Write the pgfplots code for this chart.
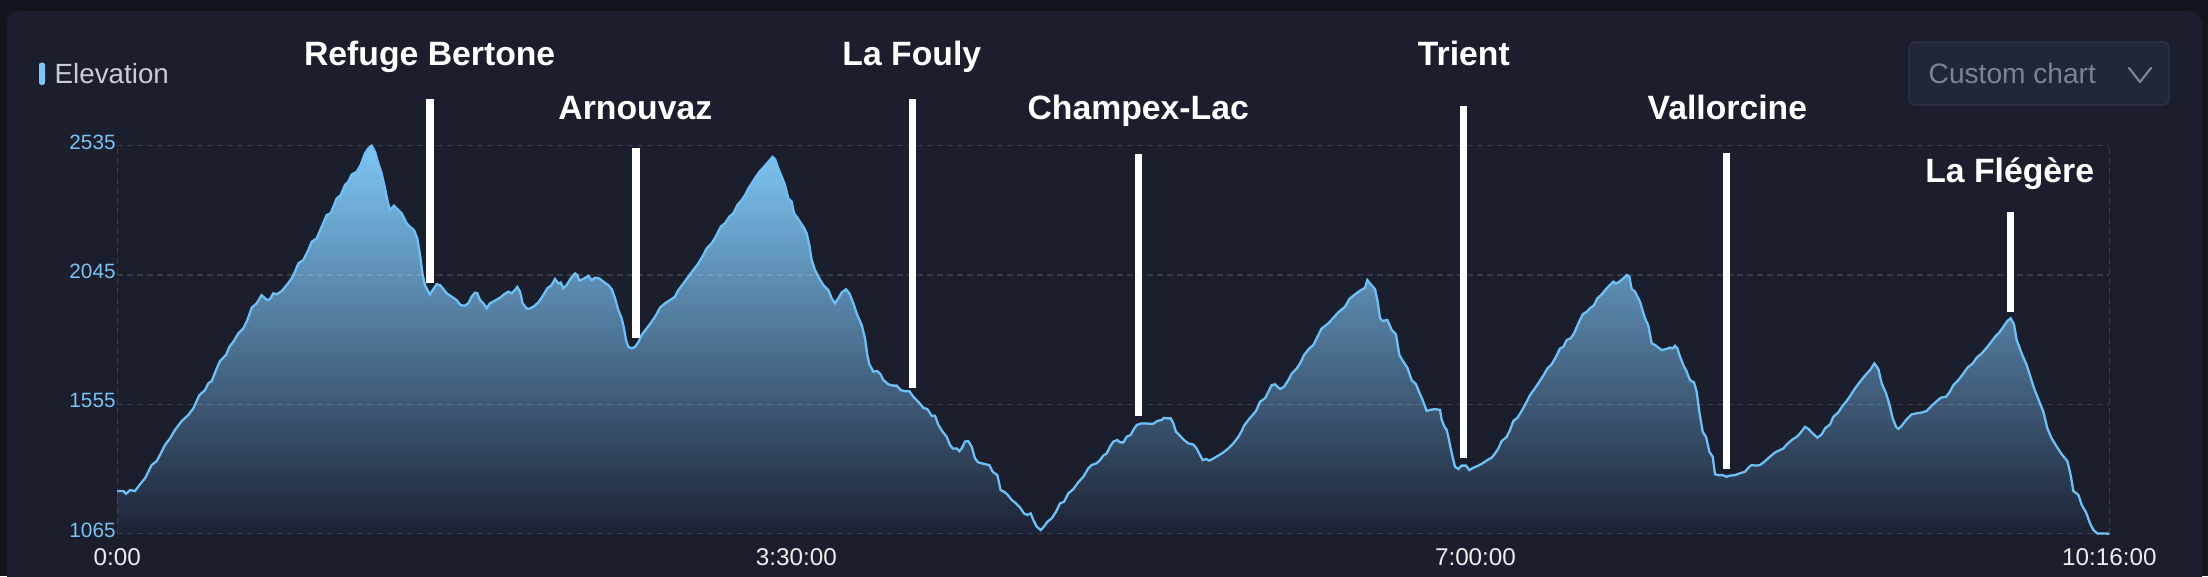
\documentclass[border=0pt]{standalone}
\usepackage{fontspec}
\setmainfont{Liberation Sans}
\usepackage{pgfplots}
\pgfplotsset{compat=1.18}
\usepackage{pgfplotstable}
\definecolor{outerbg}{HTML}{13151E}
\definecolor{panelbg}{HTML}{1B1E2D}
\definecolor{linec}{HTML}{6EC0F5}
\definecolor{topc}{HTML}{7EC5F4}
\definecolor{botc}{HTML}{1D2235}
\definecolor{ytickc}{HTML}{7CC2F2}
\definecolor{boxfill}{HTML}{222738}
\definecolor{boxdraw}{HTML}{2F3547}
\definecolor{boxtext}{HTML}{7D8391}
\definecolor{legtext}{HTML}{C9CCD3}

\pgfplotstableread{
m e
0 1065
0 1227
1.87 1227
2.69 1216
3.93 1230
5.47 1227
7.02 1252
8.57 1275
10.63 1325
12.17 1340
13.20 1363
14.75 1401
16.30 1426
17.84 1458
19.91 1492
21.97 1515
23.51 1540
25.37 1590
27.12 1609
28.15 1635
29.18 1643
30.73 1691
31.76 1719
33.61 1742
34.65 1773
35.88 1792
37.43 1824
38.98 1843
40.21 1874
41.55 1921
43.10 1938
44.64 1969
45.67 1957
46.40 1950
47.22 1954
48.25 1976
49.28 1972
50.83 1984
52.38 2007
53.92 2032
54.95 2058
55.98 2089
57.53 2102
59.08 2140
60.11 2171
61.65 2184
63.20 2228
64.74 2272
65.98 2279
67.84 2335
69.07 2348
70.41 2386
71.45 2399
72.48 2426
74.02 2436
75.26 2462
76.60 2506
77.63 2525
78.66 2535
79.69 2512
80.72 2468
81.75 2430
82.79 2373
83.61 2323
84.33 2291
85.57 2308
86.60 2295
87.94 2279
89.49 2241
90.52 2228
91.75 2215
92.78 2184
93.61 2121
94.43 2045
95.15 2007
96.19 1982
96.70 1972
97.53 1988
98.76 2010
99.79 2007
100.82 1992
101.85 1976
103.40 1963
104.94 1950
106.18 1931
107.52 1929
108.55 1938
109.58 1963
110.61 1978
111.33 1976
112.16 1950
113.19 1938
114.22 1919
115.25 1938
116.80 1948
118.34 1959
119.58 1972
120.92 1982
121.95 1976
122.98 1988
123.70 2000
124.53 1982
125.35 1938
126.38 1921
127.11 1916
128.65 1925
130.20 1941
131.74 1969
132.98 1995
134.32 2007
135.35 2030
136.38 2013
137.10 2017
137.93 1995
138.96 2007
140.20 2032
141.54 2051
142.26 2045
142.88 2024
144.11 2030
145.66 2042
146.69 2026
147.72 2035
149.06 2032
150.30 2020
151.84 2007
152.88 1992
153.91 1957
154.94 1912
155.97 1881
156.69 1843
157.31 1799
158.03 1773
159.06 1767
160.09 1773
161.12 1790
162.15 1818
163.70 1843
165.25 1868
166.59 1893
167.82 1921
169.37 1938
170.92 1950
172.46 1963
173.49 1988
175.04 2013
176.58 2039
178.13 2064
179.68 2089
181.22 2121
182.25 2146
183.80 2165
185.35 2197
186.59 2228
187.92 2241
189.26 2266
190.50 2279
191.74 2310
193.08 2329
194.11 2348
195.14 2373
196.17 2392
197.51 2418
198.75 2439
199.99 2455
201.32 2474
202.66 2493
203.39 2484
204.42 2449
205.45 2418
206.48 2386
207.51 2335
208.54 2323
209.26 2279
210.09 2266
211.12 2247
212.15 2228
213.18 2203
214.00 2159
214.73 2102
215.76 2064
217.10 2032
218.33 2007
219.88 1988
220.91 1957
221.94 1938
222.97 1957
224.00 1979
225.34 1991
226.37 1976
227.61 1938
228.85 1893
230.19 1856
231.22 1805
231.94 1742
232.56 1707
233.80 1679
235.03 1681
236.06 1669
236.89 1647
238.43 1631
239.98 1626
241.01 1626
242.25 1609
243.59 1605
244.93 1605
246.16 1584
247.71 1565
249.26 1542
250.49 1537
251.83 1512
252.86 1512
253.90 1477
255.23 1451
256.47 1432
257.50 1401
258.33 1388
259.56 1388
260.39 1378
261.11 1388
262.14 1414
263.17 1416
264.20 1395
265.23 1350
266.27 1335
267.81 1330
269.67 1325
270.70 1300
272.14 1287
273.17 1230
274.20 1224
275.23 1214
276.57 1193
277.91 1180
279.15 1164
280.39 1142
281.42 1136
282.45 1142
283.27 1117
284.30 1092
285.54 1079
286.57 1092
287.60 1110
288.94 1123
290.28 1148
291.52 1180
292.76 1186
294.10 1218
295.64 1234
297.19 1260
298.74 1281
300.28 1313
301.31 1325
302.86 1332
303.89 1344
304.92 1361
305.95 1369
306.98 1395
308.01 1414
309.25 1420
310.07 1411
311.11 1411
312.14 1432
313.37 1439
314.20 1458
315.23 1477
316.78 1483
318.84 1482
320.38 1482
321.62 1492
322.96 1496
323.68 1504
324.51 1502
325.74 1502
326.57 1483
327.39 1451
328.63 1436
329.87 1420
331.21 1407
332.75 1403
333.78 1388
334.81 1363
335.64 1344
336.67 1348
337.70 1342
338.94 1350
340.48 1361
342.03 1373
343.58 1388
345.12 1407
346.67 1432
347.70 1454
348.42 1474
349.76 1496
351.10 1515
352.13 1530
353.37 1565
354.91 1578
355.95 1603
356.98 1628
358.01 1631
359.55 1613
360.79 1622
362.13 1647
363.16 1672
364.71 1691
365.74 1710
366.97 1742
368.62 1767
369.86 1780
371.10 1811
372.44 1843
374.50 1862
376.05 1883
377.59 1904
379.65 1925
380.99 1954
382.43 1969
384.09 1984
385.84 1997
386.56 2026
387.59 2010
388.93 1992
389.76 1944
390.48 1881
391.30 1871
392.74 1875
394.09 1837
395.42 1820
396.46 1742
397.69 1717
398.93 1694
400.27 1647
401.61 1631
402.64 1600
403.67 1571
404.91 1530
405.94 1534
407.49 1537
409.03 1534
409.55 1496
410.27 1474
411.09 1458
411.61 1432
412.33 1388
413.16 1344
413.67 1319
414.70 1310
415.73 1323
417.07 1323
418.10 1306
419.34 1315
420.89 1323
422.23 1332
423.67 1344
425.01 1353
426.04 1369
427.07 1388
428.10 1416
429.65 1432
430.68 1458
431.71 1492
432.95 1504
434.29 1530
435.83 1565
436.86 1590
438.41 1616
439.75 1641
440.99 1664
442.22 1691
443.56 1707
444.90 1736
446.14 1767
447.17 1773
448.20 1799
449.44 1805
450.47 1824
451.81 1862
453.15 1896
454.39 1906
455.42 1919
456.66 1931
457.69 1957
459.03 1972
460.37 1992
461.60 2007
462.63 2020
463.46 2013
464.49 2020
465.73 2032
466.76 2045
467.58 2039
468.30 1992
469.33 1982
470.88 1944
472.43 1881
473.46 1853
474.49 1786
475.52 1780
476.55 1770
477.58 1761
479.13 1765
480.16 1770
480.98 1767
481.70 1777
482.43 1767
483.25 1736
484.28 1704
485.31 1679
486.34 1647
487.58 1638
488.40 1603
489.23 1527
490.26 1451
491.29 1432
492.32 1376
493.35 1357
494.07 1290
495.10 1287
496.44 1287
497.68 1281
498.71 1285
500.26 1287
501.80 1294
503.35 1300
504.69 1319
505.41 1325
506.75 1323
507.99 1325
509.54 1340
511.08 1357
512.63 1373
514.17 1382
515.21 1388
516.24 1403
517.78 1420
519.33 1432
520.36 1445
521.91 1470
522.94 1462
524.28 1445
525.72 1429
527.06 1441
528.09 1464
529.64 1479
530.67 1508
532.21 1525
533.55 1550
534.79 1568
536.03 1590
537.37 1616
538.91 1641
540.46 1664
542.01 1685
543.35 1710
544.58 1689
545.61 1635
546.95 1597
547.99 1555
549.02 1502
550.05 1470
550.77 1462
551.80 1474
553.35 1499
554.89 1517
556.44 1521
558.29 1525
559.53 1530
560.77 1546
562.42 1565
563.86 1580
565.51 1584
566.54 1600
567.78 1628
569.32 1647
570.87 1672
572.11 1694
573.75 1710
574.99 1732
576.54 1748
577.88 1767
579.12 1786
580.66 1811
582.00 1828
583.24 1849
584.48 1871
585.51 1881
586.54 1858
587.36 1799
588.91 1748
590.45 1704
591.69 1656
592.72 1616
594.37 1565
595.61 1527
596.84 1464
598.18 1426
599.73 1395
601.28 1366
603.03 1340
604.06 1287
604.88 1227
606.43 1212
607.46 1174
608.80 1146
610.04 1104
611.07 1079
612.31 1066
614.16 1066
616 1065
}\elev

\begin{document}
\begin{tikzpicture}
\useasboundingbox (0,0) rectangle (220.8mm,57.6mm);
\fill[outerbg] (0,0) rectangle (220.8mm,57.6mm);
\fill[panelbg, rounded corners=1.2mm] (0.7mm,-3mm) rectangle (220.2mm,56.5mm);
% legend
\fill[topc, rounded corners=0.25mm] (3.9mm,49.1mm) rectangle (4.5mm,51.35mm);
\node[anchor=base west, inner sep=0pt, text=legtext, font=\fontsize{7.9}{9}\selectfont] at (5.4mm,49.22mm) {Elevation};
% custom chart box
\filldraw[fill=boxfill, draw=boxdraw, line width=0.3pt, rounded corners=0.5mm] (190.9mm,47.1mm) rectangle (216.9mm,53.4mm);
\node[anchor=base west, inner sep=0pt, text=boxtext, font=\fontsize{8}{9}\selectfont] at (192.8mm,49.22mm) {Custom chart};
\draw[boxtext, line width=0.22mm, line cap=round, line join=round] (212.9mm,50.8mm) -- (214.0mm,49.4mm) -- (215.1mm,50.8mm);

\begin{axis}[
  at={(11.73mm,4.23mm)}, anchor=south west,
  scale only axis, width=199.2mm, height=38.8mm,
  xmin=0, xmax=616, ymin=1065, ymax=2535,
  axis line style={draw=none},
  xtick={0,210,420,616}, xticklabels={0:00,3:30:00,7:00:00,10:16:00},
  ytick={1065,1555,2045,2535}, yticklabels={1065,1555,2045,2535},
  major tick length=0pt,
  ymajorgrids,
  grid style={white, opacity=0.13, dash pattern=on 0.6mm off 0.4mm, line width=0.4pt},
  xticklabel style={font=\fontsize{6.9}{8}\selectfont, text=white!93!black, anchor=base, inner sep=0pt, yshift=-3.2mm},
  yticklabel style={font=\fontsize{5.9}{7}\selectfont, text=ytickc, anchor=base east, inner sep=0pt, yshift=-0.33mm, xshift=-0.1mm},
  /pgf/number format/assume math mode=true,
  clip=false,
  axis on top,
]
\addplot[draw=none, top color=topc, bottom color=botc] table[x=m, y=e] {\elev};
\addplot[linec, line width=0.65pt, skip coords between index={0}{1}] table[x=m, y=e] {\elev};

\draw[white, opacity=0.13, dash pattern=on 0.6mm off 0.4mm, line width=0.4pt] (axis cs:0,1065) -- (axis cs:0,2535);
\draw[white, opacity=0.13, dash pattern=on 0.6mm off 0.4mm, line width=0.4pt] (axis cs:616,1065) -- (axis cs:616,2535);

% markers
\addplot[white, line width=2pt] coordinates {(96.7,2013) (96.7,2711)};
\addplot[white, line width=2pt] coordinates {(160.4,1805) (160.4,2527)};
\addplot[white, line width=2pt] coordinates {(246.0,1616) (246.0,2711)};
\addplot[white, line width=2pt] coordinates {(315.7,1512) (315.7,2502)};
\addplot[white, line width=2pt] coordinates {(416.4,1350) (416.4,2684)};
\addplot[white, line width=2pt] coordinates {(497.7,1309) (497.7,2506)};
\addplot[white, line width=2pt] coordinates {(585.3,1906) (585.3,2283)};

\begin{scope}[every node/.style={anchor=base, inner sep=0pt, text=white, font=\fontsize{9.6}{11}\selectfont\bfseries}]
\node at (axis cs:96.6,2837) {Refuge Bertone};
\node at (axis cs:160.2,2635) {Arnouvaz};
\node at (axis cs:245.7,2837) {La Fouly};
\node at (axis cs:315.7,2635) {Champex-Lac};
\node at (axis cs:416.4,2837) {Trient};
\node at (axis cs:497.9,2635) {Vallorcine};
\node at (axis cs:585.2,2395) {La Flégère};
\end{scope}
\end{axis}
\end{tikzpicture}
\end{document}
